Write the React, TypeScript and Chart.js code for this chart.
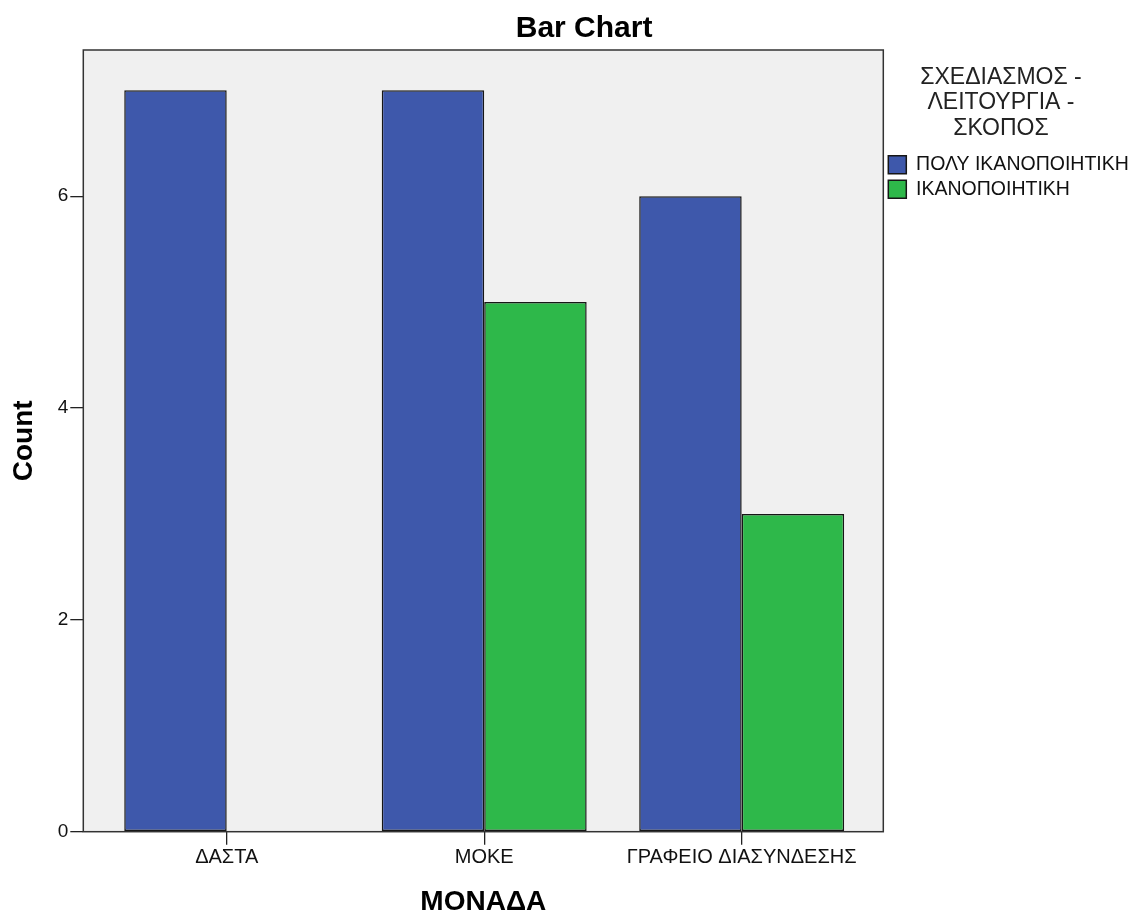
import React, { useEffect, useRef } from 'react';
import { Chart, registerables } from 'chart.js';

Chart.register(...registerables);

// ---- data ----
const CATEGORIES = ['ΔΑΣΤΑ', 'ΜΟΚΕ', 'ΓΡΑΦΕΙΟ ΔΙΑΣΥΝΔΕΣΗΣ'];
const SERIES_NAMES = ['ΠΟΛΥ ΙΚΑΝΟΠΟΙΗΤΙΚΗ', 'ΙΚΑΝΟΠΟΙΗΤΙΚΗ'];
const VERY_SATISFACTORY = [7, 7, 6];
const SATISFACTORY = [0, 5, 3];
const Y_TICKS = [0, 2, 4, 6];
const Y_MAX = 7.38;
const X_MIN = -0.557;
const X_MAX = 2.55;
const CHART_TITLE = 'Bar Chart';
const X_TITLE = 'ΜΟΝΑΔΑ';
const Y_TITLE = 'Count';
const LEGEND_TITLE = ['ΣΧΕΔΙΑΣΜΟΣ -', 'ΛΕΙΤΟΥΡΓΙΑ -', 'ΣΚΟΠΟΣ'];

const FONT = "'Liberation Sans', Arial, sans-serif";
const W = 1132;
const H = 915;

const plotFrame = {
  id: 'plotFrame',
  beforeDraw(chart: any) {
    const { ctx, chartArea: a } = chart;
    ctx.save();
    ctx.fillStyle = '#f0f0f0';
    ctx.fillRect(a.left, a.top, a.right - a.left, a.bottom - a.top);
    ctx.restore();
  },
  afterDatasetsDraw(chart: any) {
    const { ctx, chartArea: a } = chart;
    ctx.save();
    ctx.strokeStyle = '#333';
    ctx.lineWidth = 1.5;
    ctx.strokeRect(a.left, a.top, a.right - a.left, a.bottom - a.top);
    ctx.restore();
  },
};

const chartTitle = {
  id: 'chartTitle',
  afterDraw(chart: any) {
    const { ctx } = chart;
    ctx.save();
    ctx.font = `bold 30px ${FONT}`;
    ctx.fillStyle = '#000';
    ctx.textAlign = 'center';
    ctx.textBaseline = 'alphabetic';
    ctx.fillText(CHART_TITLE, chart.width * 0.516, 37);
    ctx.restore();
  },
};

const legendTweaks = {
  id: 'legendTweaks',
  beforeInit(chart: any) {
    const legend = chart.legend;
    if (!legend) return;
    const origFit = legend.fit;
    legend.fit = function () {
      origFit.call(this);
      this.width = 235.4;
    };
    // draw without clipping so long labels may run past the legend box
    legend.draw = function () {
      if (this.options.display) this._draw();
    };
  },
};

export default function App() {
  const ref = useRef<HTMLCanvasElement | null>(null);

  useEffect(() => {
    document.body.style.margin = '0';
    document.body.style.overflow = 'hidden';
    document.body.style.background = '#fff';
    const canvas = ref.current;
    if (!canvas) return;
    const chart = new Chart(canvas, {
      type: 'bar',
      data: {
        labels: CATEGORIES.map((_, i) => i),
        datasets: [
          {
            label: SERIES_NAMES[0],
            data: VERY_SATISFACTORY,
            backgroundColor: '#3e58ab',
            borderColor: '#161616',
            borderWidth: 1.5,
            borderSkipped: false,
            categoryPercentage: 0.796,
            barPercentage: 1,
          },
          {
            label: SERIES_NAMES[1],
            data: SATISFACTORY,
            backgroundColor: '#2eb84a',
            borderColor: '#161616',
            borderWidth: 1.5,
            borderSkipped: false,
            categoryPercentage: 0.796,
            barPercentage: 1,
          },
        ],
      },
      options: {
        responsive: false,
        animation: false,
        devicePixelRatio: 1,
        layout: { padding: { top: 50, right: 13.3, bottom: 0, left: 0 } },
        scales: {
          x: {
            type: 'linear',
            min: X_MIN,
            max: X_MAX,
            offset: false,
            afterBuildTicks: (s: any) => {
              s.ticks = CATEGORIES.map((_, i) => ({ value: i }));
            },
            afterFit: (s: any) => {
              s.height = 83.3;
            },
            ticks: {
              callback: (v: any) => CATEGORIES[v as number],
              font: { family: FONT, size: 20 },
              color: '#111',
              padding: 1,
              maxRotation: 0,
              autoSkip: false,
            },
            grid: {
              offset: false,
              drawOnChartArea: false,
              drawTicks: true,
              tickLength: 13,
              color: '#222',
              lineWidth: 1.3,
            },
            border: { display: false },
            title: {
              display: true,
              text: X_TITLE,
              color: '#000',
              font: { family: FONT, size: 28, weight: 'bold', lineHeight: 0.9 },
              padding: { top: 0, bottom: 0 },
            },
          },
          y: {
            type: 'linear',
            min: 0,
            max: Y_MAX,
            afterBuildTicks: (s: any) => {
              s.ticks = Y_TICKS.map((v) => ({ value: v }));
            },
            afterFit: (s: any) => {
              s.width = 83.3;
            },
            ticks: {
              font: { family: FONT, size: 19 },
              color: '#111',
              padding: 2,
            },
            grid: {
              offset: false,
              drawOnChartArea: false,
              drawTicks: true,
              tickLength: 13,
              color: '#222',
              lineWidth: 1.3,
            },
            border: { display: false },
            title: {
              display: true,
              text: Y_TITLE,
              color: '#000',
              font: { family: FONT, size: 28, weight: 'bold', lineHeight: 1.2 },
              padding: { top: 7, bottom: 0 },
            },
          },
        },
        plugins: {
          title: { display: false },
          tooltip: { enabled: false },
          legend: {
            display: true,
            position: 'right',
            align: 'start',
            title: {
              display: true,
              text: LEGEND_TITLE,
              position: 'center',
              color: '#222',
              font: { family: FONT, size: 23, lineHeight: '25.5px' },
              padding: { top: 16, bottom: 58.5 },
            },
            labels: {
              boxWidth: 18,
              boxHeight: 18,
              padding: 5,
              color: '#111',
              font: { family: FONT, size: 19.5 },
            },
          },
        },
      } as any,
      plugins: [plotFrame, chartTitle, legendTweaks],
    });
    return () => chart.destroy();
  }, []);

  return (
    <div style={{ width: W, height: H }}>
      <canvas ref={ref} width={W} height={H} style={{ display: 'block' }} />
    </div>
  );
}
